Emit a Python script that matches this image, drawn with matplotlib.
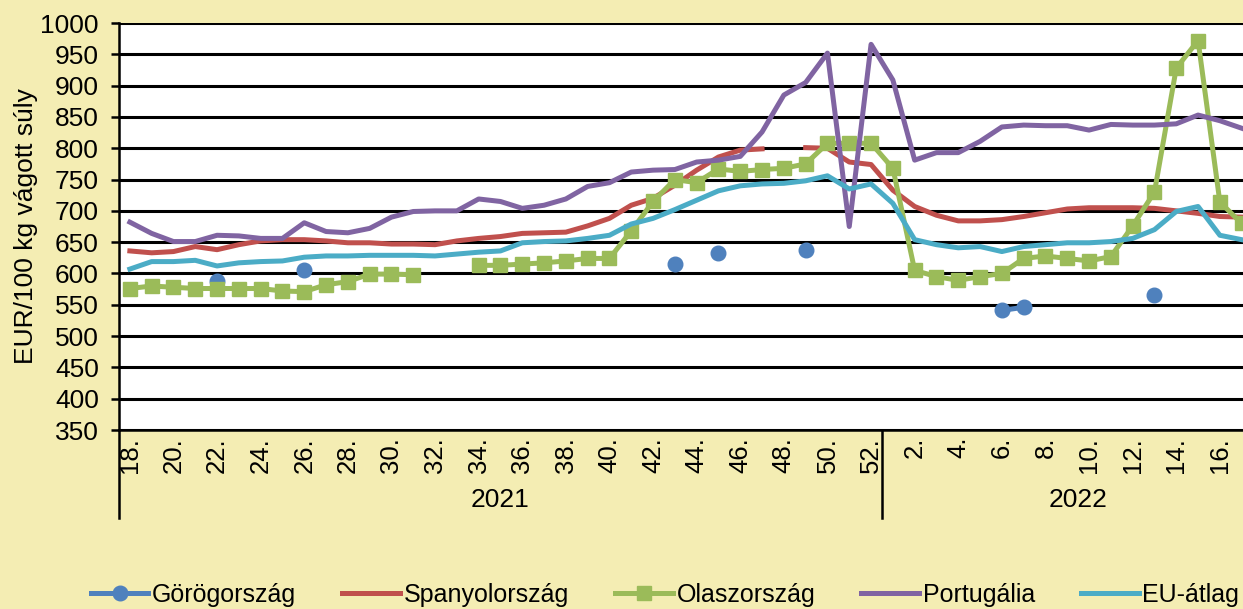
import numpy as np
import matplotlib.pyplot as plt
from matplotlib.transforms import blended_transform_factory

plt.rcParams['font.family'] = ['Liberation Sans', 'DejaVu Sans']

nan = np.nan

# weekly categories: 2021 weeks 18-52, then 2022 weeks 1-17
weeks_2021 = list(range(18, 53))
weeks_2022 = list(range(1, 18))
years = ['2021', '2022']

gorog = [nan, nan, nan, nan, 588, nan, nan, nan, 605, nan,
         nan, nan, nan, nan, nan, nan, nan, nan, nan, nan,
         nan, nan, nan, nan, nan, 615, nan, 633, nan, nan,
         nan, 637, nan, nan, nan, nan, nan, nan, nan, nan,
         541, 546, nan, nan, nan, nan, nan, 565, nan, nan,
         nan, nan]
spanyol = [636, 633, 635, 643, 638, 646, 652, 654, 654, 652,
           649, 649, 647, 647, 646, 652, 656, 659, 664, 665,
           666, 676, 688, 709, 720, 741, 765, 786, 797, 799,
           nan, 801, 800, 778, 774, 733, 707, 693, 684, 684,
           686, 691, 697, 703, 705, 705, 705, 704, 700, 696,
           691, 690]
olasz = [576, 580, 578, 576, 576, 576, 576, 572, 571, 582,
         587, 599, 599, 598, nan, nan, 613, 613, 615, 617,
         620, 624, 624, 668, 715, 750, 745, 767, 763, 766,
         768, 775, 808, 808, 808, 768, 605, 595, 589, 595,
         600, 624, 628, 624, 620, 627, 676, 730, 928, 972,
         714, 680]
portugal = [682, 664, 651, 651, 661, 660, 656, 656, 681, 667,
            665, 672, 690, 699, 700, 700, 719, 715, 704, 709,
            719, 739, 745, 762, 765, 766, 778, 781, 787, 826,
            885, 905, 952, 675, 966, 909, 781, 793, 793, 811,
            834, 837, 836, 836, 829, 838, 837, 837, 839, 853,
            844, 832]
eu_atlag = [607, 619, 619, 621, 612, 617, 619, 620, 626, 628,
            628, 629, 629, 629, 628, 631, 634, 636, 649, 651,
            652, 656, 661, 679, 688, 702, 717, 732, 740, 743,
            744, 748, 756, 735, 743, 712, 654, 646, 641, 643,
            635, 643, 646, 649, 649, 651, 656, 670, 699, 707,
            661, 654]

weeks = weeks_2021 + weeks_2022
x = np.arange(len(weeks))
n21 = len(weeks_2021)

bg = '#F4EDB3'
fig = plt.figure(figsize=(12.43, 6.09), dpi=100, facecolor=bg)
ax = fig.add_axes([0.0957, 0.2939, 0.912, 0.6683], facecolor='white')

lw = 3.6
ax.plot(x, gorog, color='#4F81BD', lw=lw, marker='o', ms=10.5,
        label='Görögország', zorder=3)
ax.plot(x, spanyol, color='#C0504D', lw=lw, label='Spanyolország', zorder=4)
ax.plot(x, olasz, color='#9BBB59', lw=lw, marker='s', ms=10,
        label='Olaszország', zorder=5)
ax.plot(x, portugal, color='#8064A2', lw=lw, label='Portugália', zorder=6)
ax.plot(x, eu_atlag, color='#4BACC6', lw=lw, label='EU-átlag', zorder=7)

ax.set_xlim(-0.5, len(weeks) - 0.5)
ax.set_ylim(350, 1000)
ax.set_yticks(np.arange(350, 1001, 50))
ax.grid(axis='y', color='black', lw=2.2, zorder=1)
ax.set_axisbelow(True)

for s in ('top', 'right'):
    ax.spines[s].set_visible(False)
for s in ('left', 'bottom'):
    ax.spines[s].set_color('black')
    ax.spines[s].set_linewidth(1.8)

ax.tick_params(axis='y', direction='out', length=6, width=1.8,
               labelsize=19, pad=8.5)

# every second week labelled
tick_pos = [i for i, w in enumerate(weeks) if w % 2 == 0]
ax.set_xticks(tick_pos)
ax.set_xticklabels([f'{weeks[i]}.' for i in tick_pos], rotation=90,
                   fontsize=18.5)
ax.tick_params(axis='x', length=0, pad=5)

# year level of the category axis
trans = blended_transform_factory(ax.transData, ax.transAxes)
ybot = -0.215
for xs in (-0.5, n21 - 0.5):
    ax.plot([xs, xs], [0, ybot], transform=trans, color='black', lw=1.8,
            clip_on=False)
ax.text((n21 - 1) / 2, -0.172, years[0], transform=trans, ha='center',
        va='center', fontsize=19)
ax.text(n21 + (len(weeks_2022) - 1) / 2 + 0.5, -0.172, years[1],
        transform=trans, ha='center', va='center', fontsize=19)

fig.text(0.021, 0.628, 'EUR/100 kg vágott súly', rotation=90,
         ha='center', va='center', fontsize=19)

fig.legend(loc='center', bbox_to_anchor=(0.535, 0.023), ncol=5,
           frameon=False, fontsize=18, handlelength=2.3,
           handletextpad=0.15, columnspacing=1.85, borderaxespad=0)

fig.savefig('out.png', dpi=100, facecolor=bg)
